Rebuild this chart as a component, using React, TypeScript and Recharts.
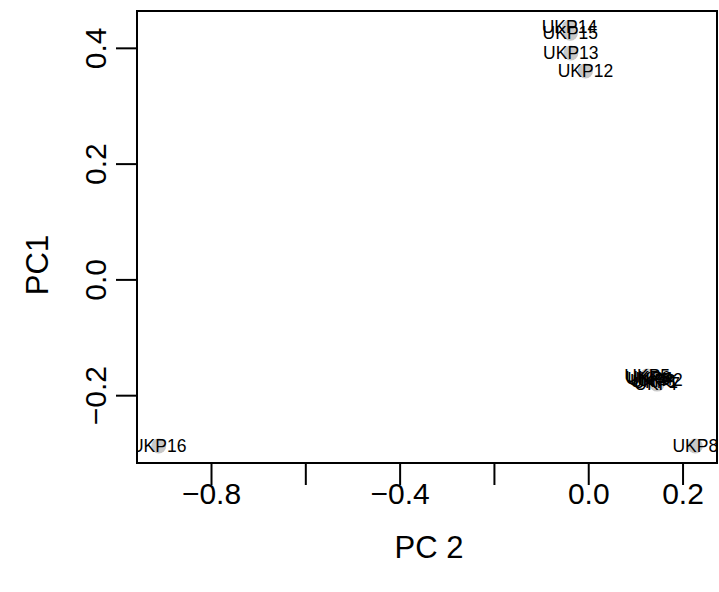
import { ScatterChart, Scatter, XAxis, YAxis, ReferenceArea } from "recharts"

const sampleNames = ["UKP1", "UKP2", "UKP3", "UKP4", "UKP5", "UKP6", "UKP7", "UKP8", "UKP12", "UKP13", "UKP14", "UKP15", "UKP16"]
const pc2Values = [0.141, 0.151, 0.136, 0.13, 0.124, 0.126, 0.145, 0.226, -0.007, -0.038, -0.041, -0.039, -0.912]
const pc1Values = [-0.177, -0.173, -0.175, -0.172, -0.166, -0.17, -0.18, -0.287, 0.361, 0.392, 0.436, 0.426, -0.287]

const xTicks = [-0.8, -0.6, -0.4, -0.2, 0, 0.2]
const xLabelled = [-0.8, -0.4, 0, 0.2]
const yTicks = [-0.2, 0, 0.2, 0.4]

const X_DOMAIN: [number, number] = [-0.958, 0.272]
const Y_DOMAIN: [number, number] = [-0.3163, 0.4645]

const points = sampleNames.map((name, i) => ({ name, pc2: pc2Values[i], pc1: pc1Values[i] }))

const FONT = "'Liberation Sans', Arial, Helvetica, sans-serif"

const fmt = (v: number) => v.toFixed(1).replace("-", "\u2212")

function XTick({ payload }: any) {
  const v = payload.value
  if (!xLabelled.some((t) => Math.abs(t - v) < 1e-9)) return <g />
  return (
    <text
      x={payload.coordinate}
      y={493}
      textAnchor="middle"
      dominantBaseline="central"
      fontSize={30}
      fontFamily={FONT}
      fill="#000"
    >
      {fmt(v)}
    </text>
  )
}

function YTick({ payload }: any) {
  const c = payload.coordinate
  return (
    <text
      x={96}
      y={c}
      transform={`rotate(-90, 96, ${c})`}
      textAnchor="middle"
      dominantBaseline="central"
      fontSize={30}
      fontFamily={FONT}
      fill="#000"
    >
      {fmt(payload.value)}
    </text>
  )
}

const Dot = (props: any) => <circle cx={props.cx} cy={props.cy} r={7.5} fill="#c8c8c8" />

const Tag = (props: any) => (
  <text
    x={props.cx}
    y={props.cy}
    textAnchor="middle"
    dominantBaseline="central"
    fontSize={17.5}
    fontFamily={FONT}
    fill="#000"
  >
    {props.payload.name}
  </text>
)

export default function App() {
  return (
    <div style={{ position: "absolute", left: 0, top: 0, width: 719, height: 592, background: "#fff" }}>
      <ScatterChart width={719} height={592} margin={{ top: 11, right: 2, left: 0, bottom: 29 }}>
        <XAxis
          type="number"
          dataKey="pc2"
          domain={X_DOMAIN}
          ticks={xTicks}
          allowDataOverflow
          axisLine={false}
          tickLine={{ stroke: "#000", strokeWidth: 2 }}
          tickSize={22}
          tick={<XTick />}
          height={100}
        />
        <YAxis
          type="number"
          dataKey="pc1"
          domain={Y_DOMAIN}
          ticks={yTicks}
          allowDataOverflow
          axisLine={false}
          tickLine={{ stroke: "#000", strokeWidth: 2 }}
          tickSize={21}
          tick={<YTick />}
          width={137}
        />
        <ReferenceArea
          x1={X_DOMAIN[0]}
          x2={X_DOMAIN[1]}
          y1={Y_DOMAIN[0]}
          y2={Y_DOMAIN[1]}
          fill="none"
          stroke="#000"
          strokeWidth={2}
          ifOverflow="visible"
        />
        <Scatter data={points} shape={<Dot />} isAnimationActive={false} />
        <Scatter data={points} shape={<Tag />} isAnimationActive={false} />
      </ScatterChart>
      <div
        style={{
          position: "absolute",
          left: 429,
          top: 548,
          transform: "translate(-50%, -50%)",
          fontFamily: FONT,
          fontSize: 31,
          whiteSpace: "nowrap",
        }}
      >
        PC 2
      </div>
      <div
        style={{
          position: "absolute",
          left: 38,
          top: 265,
          transform: "translate(-50%, -50%) rotate(-90deg)",
          fontFamily: FONT,
          fontSize: 31,
          whiteSpace: "nowrap",
        }}
      >
        PC1
      </div>
    </div>
  )
}
